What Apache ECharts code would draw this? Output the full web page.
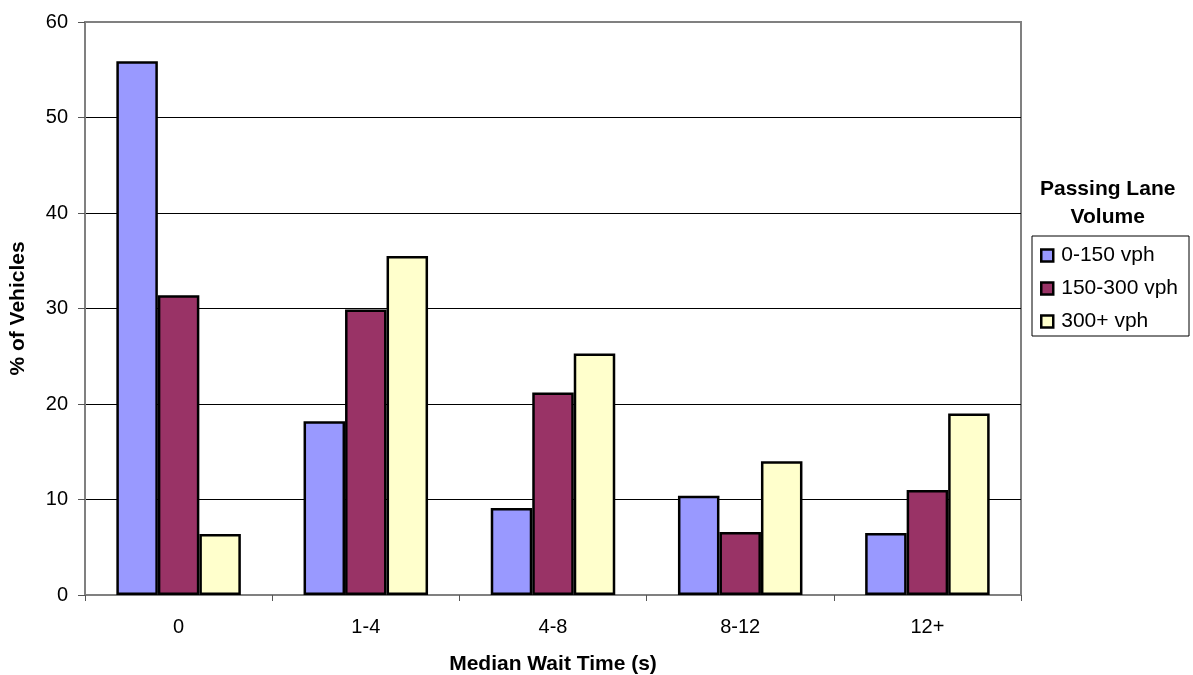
<!DOCTYPE html>
<html>
<head>
<meta charset="utf-8">
<title>Median Wait Time by Passing Lane Volume</title>
<script src="https://cdn.jsdelivr.net/npm/echarts@6/dist/echarts.min.js"></script>
<style>
  html, body { margin: 0; padding: 0; background: #ffffff; }
  #chart { width: 1193px; height: 675px; }
</style>
</head>
<body>
<div id="chart"></div>
<script>
// Wait-time bins on the x axis
const categories = ['0', '1-4', '4-8', '8-12', '12+'];

// Share of vehicles (%) in each wait-time bin, per passing-lane volume class
const seriesNames = ['0-150 vph', '150-300 vph', '300+ vph'];
const vol0to150 = [55.9, 18.2, 9.1, 10.4, 6.5];
const vol150to300 = [31.4, 29.9, 21.2, 6.6, 11.0];
const vol300plus = [6.4, 35.5, 25.3, 14.0, 19.0];

const seriesColors = ['#9999FF', '#993366', '#FFFFCC'];
const FONT = 'Liberation Sans, Arial, sans-serif';

const chart = echarts.init(document.getElementById('chart'), null, { renderer: 'canvas' });

const makeBar = (name, data, color) => ({
  name: name,
  type: 'bar',
  data: data,
  barWidth: 41.5,
  barGap: '0%',
  itemStyle: { color: color, borderColor: '#000000', borderWidth: 2.5 },
  emphasis: { disabled: true }
});

chart.setOption({
  animation: false,
  backgroundColor: '#ffffff',
  textStyle: { fontFamily: FONT },
  grid: {
    left: 85, right: 172, top: 22, bottom: 80,
    show: true, borderColor: '#808080', borderWidth: 2,
    containLabel: false,
    outerBoundsMode: 'none'
  },
  xAxis: {
    type: 'category',
    data: categories,
    boundaryGap: true,
    name: 'Median Wait Time (s)',
    nameLocation: 'middle',
    nameGap: 59,
    nameTextStyle: { fontFamily: FONT, fontSize: 21, fontWeight: 'bold', color: '#000' },
    axisLine: { show: true, lineStyle: { color: '#808080', width: 2 } },
    axisTick: { show: true, interval: 0, length: 6, alignWithLabel: false, lineStyle: { color: '#555', width: 1 } },
    axisLabel: { margin: 22, fontFamily: FONT, fontSize: 20, color: '#000' },
    splitLine: { show: false }
  },
  yAxis: {
    type: 'value',
    min: 0, max: 60, interval: 10,
    name: '% of Vehicles',
    nameLocation: 'middle',
    nameGap: 56,
    nameRotate: 90,
    nameTextStyle: { fontFamily: FONT, fontSize: 21, fontWeight: 'bold', color: '#000' },
    axisLine: { show: true, lineStyle: { color: '#808080', width: 2 } },
    axisTick: { show: true, length: 7, lineStyle: { color: '#555', width: 1 } },
    axisLabel: { margin: 17, fontFamily: FONT, fontSize: 20, color: '#000' },
    splitLine: { show: true, showMaxLine: false, showMinLine: false, lineStyle: { color: '#000', width: 1 } }
  },
  legend: {
    orient: 'vertical',
    left: 1032, top: 236,
    padding: [9, 11, 4, 8],
    itemWidth: 12, itemHeight: 12,
    itemGap: 12,
    icon: 'rect',
    selectedMode: false,
    borderColor: '#000', borderWidth: 1,
    textStyle: { fontFamily: FONT, fontSize: 21, color: '#000', padding: [0, 0, 0, 3] },
    itemStyle: { borderColor: '#000', borderWidth: 2.5 },
    data: seriesNames
  },
  graphic: [
    {
      type: 'text',
      left: 1110 - 70, top: 175,
      style: {
        text: 'Passing Lane\nVolume',
        x: 70,
        textAlign: 'center',
        fontFamily: FONT, fontSize: 21, fontWeight: 'bold',
        lineHeight: 28, fill: '#000'
      }
    }
  ],
  series: [
    makeBar(seriesNames[0], vol0to150, seriesColors[0]),
    makeBar(seriesNames[1], vol150to300, seriesColors[1]),
    makeBar(seriesNames[2], vol300plus, seriesColors[2])
  ]
});
</script>
</body>
</html>
